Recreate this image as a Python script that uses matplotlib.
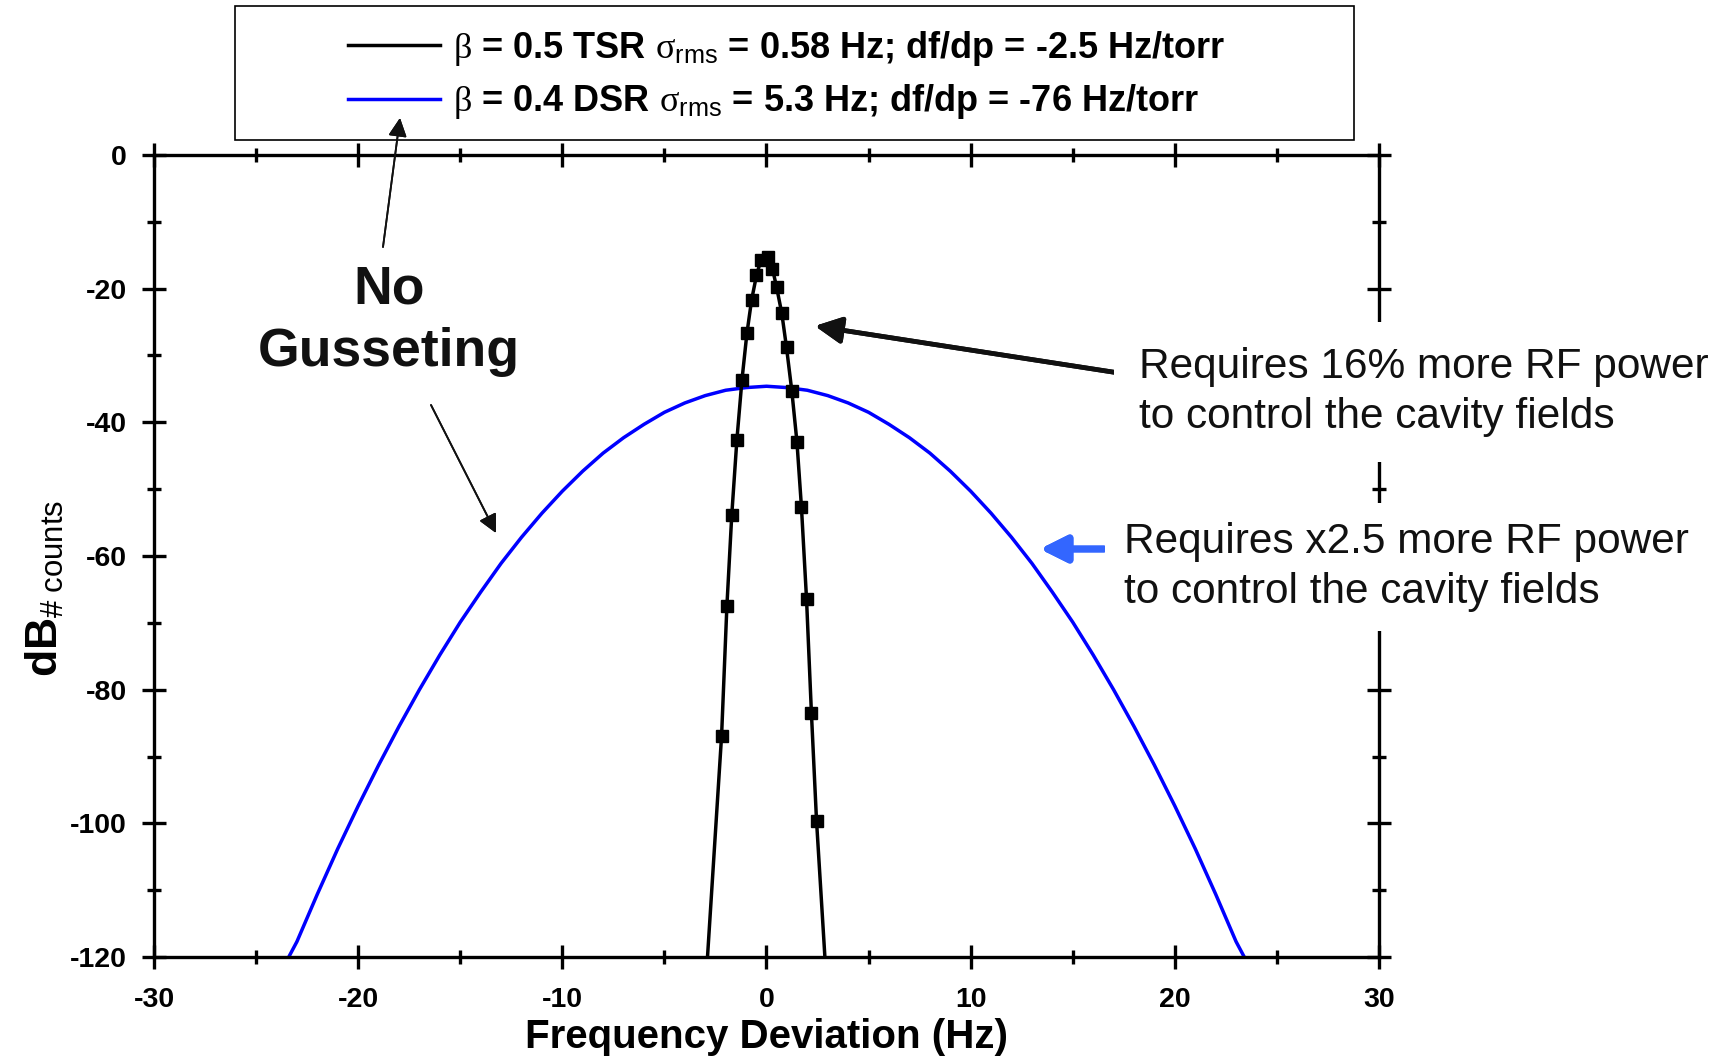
import numpy as np
import matplotlib
matplotlib.use('Agg')
import matplotlib.pyplot as plt
from matplotlib.patches import Rectangle
from matplotlib.ticker import MultipleLocator

plt.rcParams['font.family'] = ['Liberation Sans', 'DejaVu Sans']
plt.rcParams['axes.unicode_minus'] = False
plt.rcParams['mathtext.fontset'] = 'custom'
plt.rcParams['mathtext.rm'] = 'Liberation Serif'
plt.rcParams['mathtext.sf'] = 'Liberation Sans'
plt.rcParams['mathtext.bf'] = 'Liberation Sans:bold'
plt.rcParams['mathtext.it'] = 'Liberation Serif:italic'

tsr_x = [-2.20, -1.94, -1.70, -1.45, -1.20, -0.96, -0.73, -0.49, -0.27, 0.05,
         0.29, 0.49, 0.75, 0.98, 1.24, 1.49, 1.71, 1.96, 2.20, 2.45]
tsr_y = [-86.9, -67.5, -53.8, -42.6, -33.6, -26.7, -21.7, -18.0, -15.7, -15.3,
         -17.0, -19.7, -23.7, -28.8, -35.3, -42.9, -52.6, -66.4, -83.5, -99.6]
# fit line for TSR
tsr_fit_x = [-2.89] + tsr_x + [2.86]
tsr_fit_y = [-120.0] + tsr_y + [-120.0]

# beta = 0.4 DSR curve
dsr_x = [-23.4, -23, -22, -21, -20, -19, -18, -17, -16, -15, -14, -13, -12, -11, -10,
         -9, -8, -7, -6, -5, -4, -3, -2, -1, 0, 1, 2, 3, 4, 5, 6, 7, 8, 9, 10,
         11, 12, 13, 14, 15, 16, 17, 18, 19, 20, 21, 22, 23, 23.4]
dsr_y = [-120.0, -117.7, -110.6, -103.8, -97.4, -91.3, -85.5, -80.0, -74.8, -69.9,
         -65.4, -61.1, -57.2, -53.6, -50.3, -47.3, -44.6, -42.3, -40.3, -38.5,
         -37.1, -36.0, -35.2, -34.8, -34.6, -34.8, -35.2, -36.0, -37.1, -38.5,
         -40.3, -42.3, -44.6, -47.3, -50.3, -53.6, -57.2, -61.1, -65.4, -69.9,
         -74.8, -80.0, -85.5, -91.3, -97.4, -103.8, -110.6, -117.7, -120.0]

W, H = 1733, 1061

def fp(x, y):
    # image pixel (top-left origin) -> figure fraction
    return (x / W, 1 - y / H)

fig = plt.figure(figsize=(W / 100, H / 100), dpi=100)
ax = fig.add_axes([154 / W, 1 - 957 / H, 1225 / W, 802 / H])

l1, = ax.plot(tsr_fit_x, tsr_fit_y, color='black', lw=2.5, zorder=3)
ax.plot(tsr_x, tsr_y, ls='none', marker='s', ms=9, color='black', zorder=4)
l2, = ax.plot(dsr_x, dsr_y, color='#0000ff', lw=2.5, zorder=2)

ax.set_xlim(-30, 30)
ax.set_ylim(-120, 0)
ax.xaxis.set_major_locator(MultipleLocator(10))
ax.xaxis.set_minor_locator(MultipleLocator(5))
ax.yaxis.set_major_locator(MultipleLocator(20))
ax.yaxis.set_minor_locator(MultipleLocator(10))
for s in ax.spines.values():
    s.set_linewidth(2.4)
ax.tick_params(which='both', direction='inout', top=True, right=True, width=2.4)
ax.tick_params(which='major', length=17)
ax.tick_params(which='minor', length=10)
ax.tick_params(axis='x', which='major', labelsize=20.5, pad=13)
ax.tick_params(axis='y', which='major', labelsize=20.5, pad=11)
for lab in ax.get_xticklabels() + ax.get_yticklabels():
    lab.set_fontweight('bold')

ax.set_xlabel('Frequency Deviation (Hz)', fontsize=29, fontweight='bold', labelpad=4)
ax.set_ylabel(r'$\mathbf{dB}_{\mathsf{\#\ counts}}$', fontsize=32)
ax.yaxis.set_label_coords(-0.072, 0.46)

# legend box
fig.patches.append(Rectangle(fp(235, 140), 1119 / W, 134 / H, transform=fig.transFigure,
                             fill=False, edgecolor='black', lw=1.2))
labels = [r'$\mathrm{\beta}$ = 0.5 TSR $\mathrm{\sigma}_{\mathsf{rms}}$ = 0.58 Hz; df/dp = -2.5 Hz/torr',
          r'$\mathrm{\beta}$ = 0.4 DSR $\mathrm{\sigma}_{\mathsf{rms}}$ = 5.3 Hz; df/dp = -76 Hz/torr']
fig.legend([l1, l2], labels, loc='center left', bbox_to_anchor=fp(348, 75),
           frameon=False, prop={'size': 26, 'weight': 'bold'}, handlelength=2.55,
           handletextpad=0.35, labelspacing=0.4, borderpad=0, borderaxespad=0)

dark = '#111111'
fig.text(*fp(389, 321), 'No\nGusseting', fontsize=38.5, fontweight='bold', color=dark,
         ha='center', va='center', multialignment='center', linespacing=1.33)

thin = dict(arrowstyle='-|>', color=dark, lw=1.3, mutation_scale=28, shrinkA=0, shrinkB=0)
fig.add_artist(plt.annotate('', xy=fp(400, 118), xytext=fp(383, 247),
                            xycoords='figure fraction', textcoords='figure fraction',
                            arrowprops=thin))
fig.add_artist(plt.annotate('', xy=fp(496, 533), xytext=fp(431, 405),
                            xycoords='figure fraction', textcoords='figure fraction',
                            arrowprops=thin))
fig.add_artist(plt.annotate('', xy=fp(815, 326), xytext=fp(1119, 373),
                            xycoords='figure fraction', textcoords='figure fraction',
                            arrowprops=dict(arrowstyle='-|>', color=dark, lw=3.4,
                                            mutation_scale=40, shrinkA=0, shrinkB=0)))
fig.add_artist(plt.annotate('', xy=fp(1040, 549), xytext=fp(1104, 549),
                            xycoords='figure fraction', textcoords='figure fraction',
                            arrowprops=dict(arrowstyle='-|>', color='#3366ff', lw=5,
                                            mutation_scale=40, shrinkA=0, shrinkB=0)))

box = dict(facecolor='white', edgecolor='none', pad=18)
fig.text(*fp(1139, 392), 'Requires 16% more RF power\nto control the cavity fields',
         fontsize=30.5, color=dark, ha='left', va='center', bbox=box, linespacing=1.3)
fig.text(*fp(1124, 567), 'Requires x2.5 more RF power\nto control the cavity fields',
         fontsize=30.5, color=dark, ha='left', va='center',
         bbox=dict(facecolor='white', edgecolor='none', pad=14), linespacing=1.3)

fig.savefig('out.png', dpi=100)
